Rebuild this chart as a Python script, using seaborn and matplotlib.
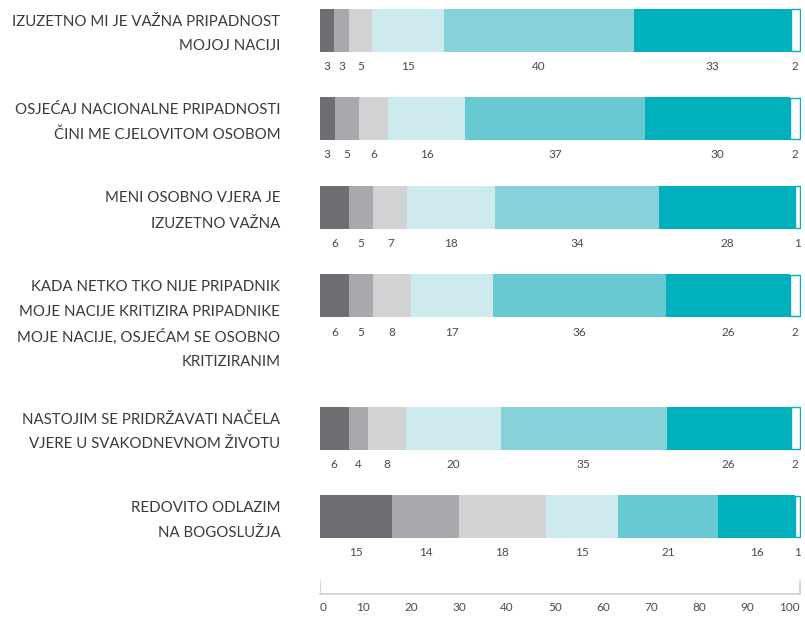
import numpy as np
import matplotlib.pyplot as plt
import seaborn as sns
from matplotlib.transforms import ScaledTranslation

# -----------------------------
# data
# -----------------------------
statements = [
    "IZUZETNO MI JE VAŽNA PRIPADNOST\nMOJOJ NACIJI",
    "OSJEĆAJ NACIONALNE PRIPADNOSTI\nČINI ME CJELOVITOM OSOBOM",
    "MENI OSOBNO VJERA JE\nIZUZETNO VAŽNA",
    "KADA NETKO TKO NIJE PRIPADNIK\nMOJE NACIJE KRITIZIRA PRIPADNIKE\nMOJE NACIJE, OSJEĆAM SE OSOBNO\nKRITIZIRANIM",
    "NASTOJIM SE PRIDRŽAVATI NAČELA\nVJERE U SVAKODNEVNOM ŽIVOTU",
    "REDOVITO ODLAZIM\nNA BOGOSLUŽJA",
]

# response levels (left to right)
level1 = [3, 3, 6, 6, 6, 15]
level2 = [3, 5, 5, 5, 4, 14]
level3 = [5, 6, 7, 8, 8, 18]
level4 = [15, 16, 18, 17, 20, 15]
level5 = [40, 37, 34, 36, 35, 21]
level6 = [33, 30, 28, 26, 26, 16]
level7 = [2, 2, 1, 2, 2, 1]

x_ticks = [0, 10, 20, 30, 40, 50, 60, 70, 80, 90, 100]

# -----------------------------
# style
# -----------------------------
sns.set_theme(style="white")
plt.rcParams['font.family'] = ['Lato', 'DejaVu Sans']

grey_dark = "#6d6e72"
grey_mid = "#a8a9ad"
grey_light = "#d1d2d4"
cyan_pale = "#cdeaee"
cyan_a = "#87d1d9"
cyan_b = "#69c9d2"
teal = "#00b0bc"
text_col = "#3a3a3c"
num_col = "#4a4a4c"

values = np.array([level1, level2, level3, level4, level5, level6, level7], dtype=float).T
shares = values / values.sum(axis=1, keepdims=True) * 100
lefts = np.hstack([np.zeros((len(statements), 1)), np.cumsum(shares, axis=1)[:, :-1]])

# row positions (pixel units from the top), longer labels push the next row down
n_lines = [len(s.split("\n")) for s in statements]
row_y = [30.0]
for k in n_lines[:-1]:
    row_y.append(row_y[-1] + 88.5 + 22 * (k - 2))

fig = plt.figure(figsize=(8.05, 6.23), dpi=100)
ax = fig.add_axes([320 / 805, 0, 481 / 805, 1])
ax.set_ylim(623, 0)
ax.set_xlim(0, 100.2)

bar_h = 43
for i, y in enumerate(row_y):
    fills = [grey_dark, grey_mid, grey_light, cyan_pale,
             cyan_a if i % 2 == 0 else cyan_b, teal, "white"]
    for j in range(7):
        edge = teal if j == 6 else "none"
        ax.barh(y, shares[i, j], left=lefts[i, j], height=bar_h if j < 6 else bar_h - 1.5,
                color=fills[j], edgecolor=edge, linewidth=1.0 if j == 6 else 0)
        ax.text(lefts[i, j] + shares[i, j] / 2, y + bar_h / 2 + 15, f"{int(values[i, j])}",
                ha="center", va="center", fontsize=8.5, color=num_col)

    lines = statements[i].split("\n")
    for k, line in enumerate(lines):
        ax.text(-8.3, y - 8.5 + 25 * k, line, ha="right", va="center",
                fontsize=10.8, color=text_col)

# bottom scale bracket
for s in ["top", "right", "left"]:
    ax.spines[s].set_visible(False)
ax.spines["bottom"].set_position(("data", 594))
ax.spines["bottom"].set_color("#d3d3d5")
ax.spines["bottom"].set_linewidth(1.3)
ax.spines["bottom"].set_bounds(0, 100)
ax.vlines([0, 100], 580, 594, color="#d3d3d5", linewidth=1.3)

ax.set_yticks([])
ax.set_xticks(x_ticks)
ax.set_xticklabels([str(t) for t in x_ticks], fontsize=8.5, color=num_col)
ax.tick_params(axis="x", length=0, pad=6)
tl = ax.get_xticklabels()
tl[0].set_ha("left")
tl[-1].set_ha("right")
for lab in tl[1:-1]:
    lab.set_transform(lab.get_transform() + ScaledTranslation(-5 / 100, 0, fig.dpi_scale_trans))
ax.patch.set_alpha(0)

plt.savefig("out.png", dpi=100)
